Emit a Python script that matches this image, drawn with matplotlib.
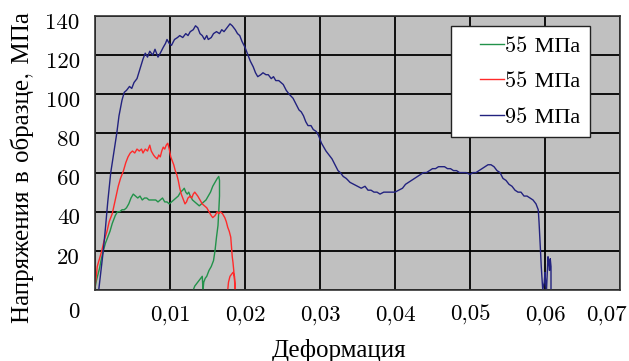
import warnings
warnings.filterwarnings('ignore')
import matplotlib
matplotlib.use("Agg")
import matplotlib.pyplot as plt
import matplotlib.transforms as mtransforms
from matplotlib.ticker import FuncFormatter

plt.rcParams['font.family'] = ['cmr10', 'Liberation Serif']
plt.rcParams['axes.formatter.use_mathtext'] = False

blue_x = [0.0005,0.0008,0.0011,0.0014,0.0017,0.0021,0.0025,0.0029,0.0032,0.0036,0.0039,0.0042,0.0046,0.0049,0.0052,0.0056,0.0060,0.0064,0.0067,0.0070,0.0073,0.0077,0.0080,0.0084,0.0087,0.0091,0.0094,0.0096,0.0099,0.0102,0.0106,0.0110,0.0113,0.0117,0.0121,0.0124,0.0127,0.0131,0.0134,0.0137,0.0140,0.0143,0.0146,0.0149,0.0151,0.0155,0.0158,0.0162,0.0166,0.0169,0.0172,0.0176,0.0180,0.0183,0.0187,0.0190,0.0193,0.0196,0.0200,0.0204,0.0207,0.0211,0.0214,0.0217,0.0221,0.0224,0.0228,0.0231,0.0235,0.0238,0.0241,0.0245,0.0248,0.0251,0.0255,0.0259,0.0264,0.0268,0.0272,0.0275,0.0278,0.0281,0.0284,0.0288,0.0291,0.0295,0.0298,0.0302,0.0305,0.0308,0.0312,0.0316,0.0320,0.0324,0.0327,0.0331,0.0335,0.0340,0.0345,0.0350,0.0355,0.0360,0.0364,0.0368,0.0372,0.0376,0.0380,0.0385,0.0390,0.0395,0.0400,0.0405,0.0410,0.0414,0.0418,0.0422,0.0426,0.0430,0.0434,0.0438,0.0442,0.0446,0.0450,0.0454,0.0458,0.0462,0.0466,0.0470,0.0474,0.0478,0.0482,0.0486,0.0490,0.0495,0.0500,0.0504,0.0508,0.0512,0.0516,0.0520,0.0524,0.0528,0.0532,0.0536,0.0540,0.0544,0.0548,0.0552,0.0556,0.0560,0.0564,0.0568,0.0572,0.0576,0.0580,0.0584,0.0588,0.0591,0.0592,0.0593,0.0594,0.0595,0.0596,0.0597,0.0599,0.0600,0.0601,0.0602,0.0603,0.0604,0.0605,0.0606,0.0607,0.0608,0.0608]
blue_y = [0,10,20,32,45,60,70,80,89,97,101,102,104,103,106,108,113,118,121,119,122,120,123,119,121,124,126,128,126,125,128,129,130,129,131,130,132,133,135,134,131,130,128,130,128,129,131,132,131,133,132,134,136,135,133,131,130,127,124,120,117,114,111,109,110,111,110,110,108,109,107,107,106,105,102,100,98,95,92,91,89,86,84,84,82,81,79,75,73,71,69,67,64,61,60,58,57,55,54,53,52,53,51,51,50,50,49,50,50,50,50,51,52,54,55,56,57,58,59,60,60,61,62,62,63,63,63,62,62,61,61,60,60,60,59,60,60,61,62,63,64,64,63,61,60,57,56,54,53,51,50,50,48,48,47,46,44,41,35,28,20,12,6,0,4,9,3,0,8,17,14,10,16,12,0]

red_x = [0.0000,0.0002,0.0003,0.0006,0.0009,0.0012,0.0016,0.0019,0.0023,0.0027,0.0031,0.0034,0.0038,0.0041,0.0044,0.0047,0.0050,0.0053,0.0056,0.0059,0.0062,0.0064,0.0067,0.0070,0.0073,0.0075,0.0078,0.0080,0.0083,0.0085,0.0087,0.0089,0.0091,0.0093,0.0095,0.0097,0.0099,0.0101,0.0103,0.0105,0.0107,0.0109,0.0111,0.0113,0.0115,0.0117,0.0120,0.0122,0.0124,0.0127,0.0129,0.0131,0.0133,0.0135,0.0137,0.0140,0.0143,0.0146,0.0149,0.0152,0.0155,0.0157,0.0160,0.0163,0.0165,0.0167,0.0170,0.0173,0.0175,0.0177,0.0179,0.0181,0.0182,0.0183,0.0184,0.0185,0.0186,0.0187,0.0186,0.0184,0.0182,0.0180,0.0178,0.0177]
red_y = [2,8,12,16,20,25,30,35,39,46,53,57,61,65,68,70,71,70,72,71,72,70,72,71,74,71,69,68,67,69,68,71,73,72,74,75,72,68,66,64,61,59,56,52,49,47,44,45,47,48,47,49,50,49,48,46,44,43,42,40,38,37,38,40,39,40,39,37,35,32,30,27,22,17,14,10,5,0,7,9,8,7,4,0]

green_x = [0.0000,0.0002,0.0004,0.0006,0.0008,0.0011,0.0014,0.0017,0.0020,0.0023,0.0027,0.0030,0.0033,0.0036,0.0039,0.0042,0.0045,0.0048,0.0051,0.0054,0.0057,0.0060,0.0063,0.0066,0.0069,0.0072,0.0075,0.0078,0.0081,0.0084,0.0087,0.0090,0.0093,0.0096,0.0099,0.0102,0.0105,0.0108,0.0111,0.0114,0.0117,0.0119,0.0121,0.0123,0.0125,0.0127,0.0130,0.0133,0.0136,0.0139,0.0142,0.0145,0.0148,0.0151,0.0154,0.0157,0.0160,0.0163,0.0165,0.0166,0.0166,0.0165,0.0164,0.0162,0.0160,0.0158,0.0155,0.0152,0.0149,0.0147,0.0145,0.0144,0.0143,0.0141,0.0139,0.0137,0.0135,0.0133,0.0131]
green_y = [1,5,8,11,15,20,24,27,30,34,38,40,40,41,41,42,44,47,49,48,47,48,46,47,47,46,46,46,46,45,46,47,45,45,44,45,46,47,48,50,51,52,50,49,50,48,46,45,44,43,44,45,46,48,50,53,55,57,58,56,48,40,33,27,20,15,12,10,7,6,4,0,7,6,5,4,3,2,0]

labels = ['55 МПа', '55 МПа', '95 МПа']
colors = ['#22924A', '#FF2A2A', '#22227F']
x_ticks = [0, 0.01, 0.02, 0.03, 0.04, 0.05, 0.06, 0.07]
y_ticks = [0, 20, 40, 60, 80, 100, 120, 140]

W, H = 629, 361
fig = plt.figure(figsize=(W / 100, H / 100), dpi=100)
ax = fig.add_axes([95 / W, (H - 290) / H, 525 / W, 274 / H])
ax.set_facecolor('#C0C0C0')

ax.plot(green_x, green_y, color=colors[0], lw=1.0, label=labels[0])
ax.plot(red_x, red_y, color=colors[1], lw=1.0, label=labels[1])
ax.plot(blue_x, blue_y, color=colors[2], lw=1.0, label=labels[2])

ax.set_xlim(0, 0.07)
ax.set_ylim(0, 140)
ax.set_xticks(x_ticks)
ax.set_yticks(y_ticks)
ax.xaxis.set_major_formatter(FuncFormatter(lambda v, p: '' if abs(v) < 1e-9 else f'{v:.2f}'.replace('.', ',')))
ax.yaxis.set_major_formatter(FuncFormatter(lambda v, p: f'{int(round(v))}'))
ax.grid(True, color='black', lw=1.3)
ax.set_axisbelow(True)
ax.tick_params(axis='both', length=0, labelsize=16.5, pad=11)
for s in ax.spines.values():
    s.set_color('#333333')
    s.set_linewidth(1.2)

for lab, v in zip(ax.get_yticklabels(), y_ticks):
    dy = -20 if v == 0 else -5
    lab.set_transform(lab.get_transform() + mtransforms.ScaledTranslation(0, dy / 100, fig.dpi_scale_trans))
for lab, v in zip(ax.get_xticklabels(), x_ticks):
    if abs(v - 0.07) < 1e-9:
        lab.set_transform(lab.get_transform() + mtransforms.ScaledTranslation(-14 / 100, 0, fig.dpi_scale_trans))

ax.set_xlabel('Деформация', fontsize=18)
ax.xaxis.set_label_coords((339 - 95) / 525, (290 - 350) / 274)
ax.xaxis.label.set_va('center')
ax.set_ylabel('Напряжения в образце, МПа', fontsize=18)
ax.yaxis.set_label_coords((22 - 95) / 525, (290 - 168) / 274)
ax.yaxis.label.set_va('center')

leg = ax.legend(loc='upper right', bbox_to_anchor=((590 - 95) / 525, (290 - 26) / 274),
                fontsize=16, frameon=True, fancybox=False, framealpha=1,
                edgecolor='#222222', handlelength=1.9, handletextpad=0.05,
                labelspacing=0.72, borderpad=0.45, borderaxespad=0)
leg.get_frame().set_linewidth(1.0)
for ln in leg.get_lines():
    xd = list(ln.get_xdata())
    yd = list(ln.get_ydata())
    x0, x1 = xd[0], xd[-1]
    ln.set_data([x0 + 0.45 * (x1 - x0), x1], [yd[0], yd[0]])

fig.savefig('out.png', dpi=100)
